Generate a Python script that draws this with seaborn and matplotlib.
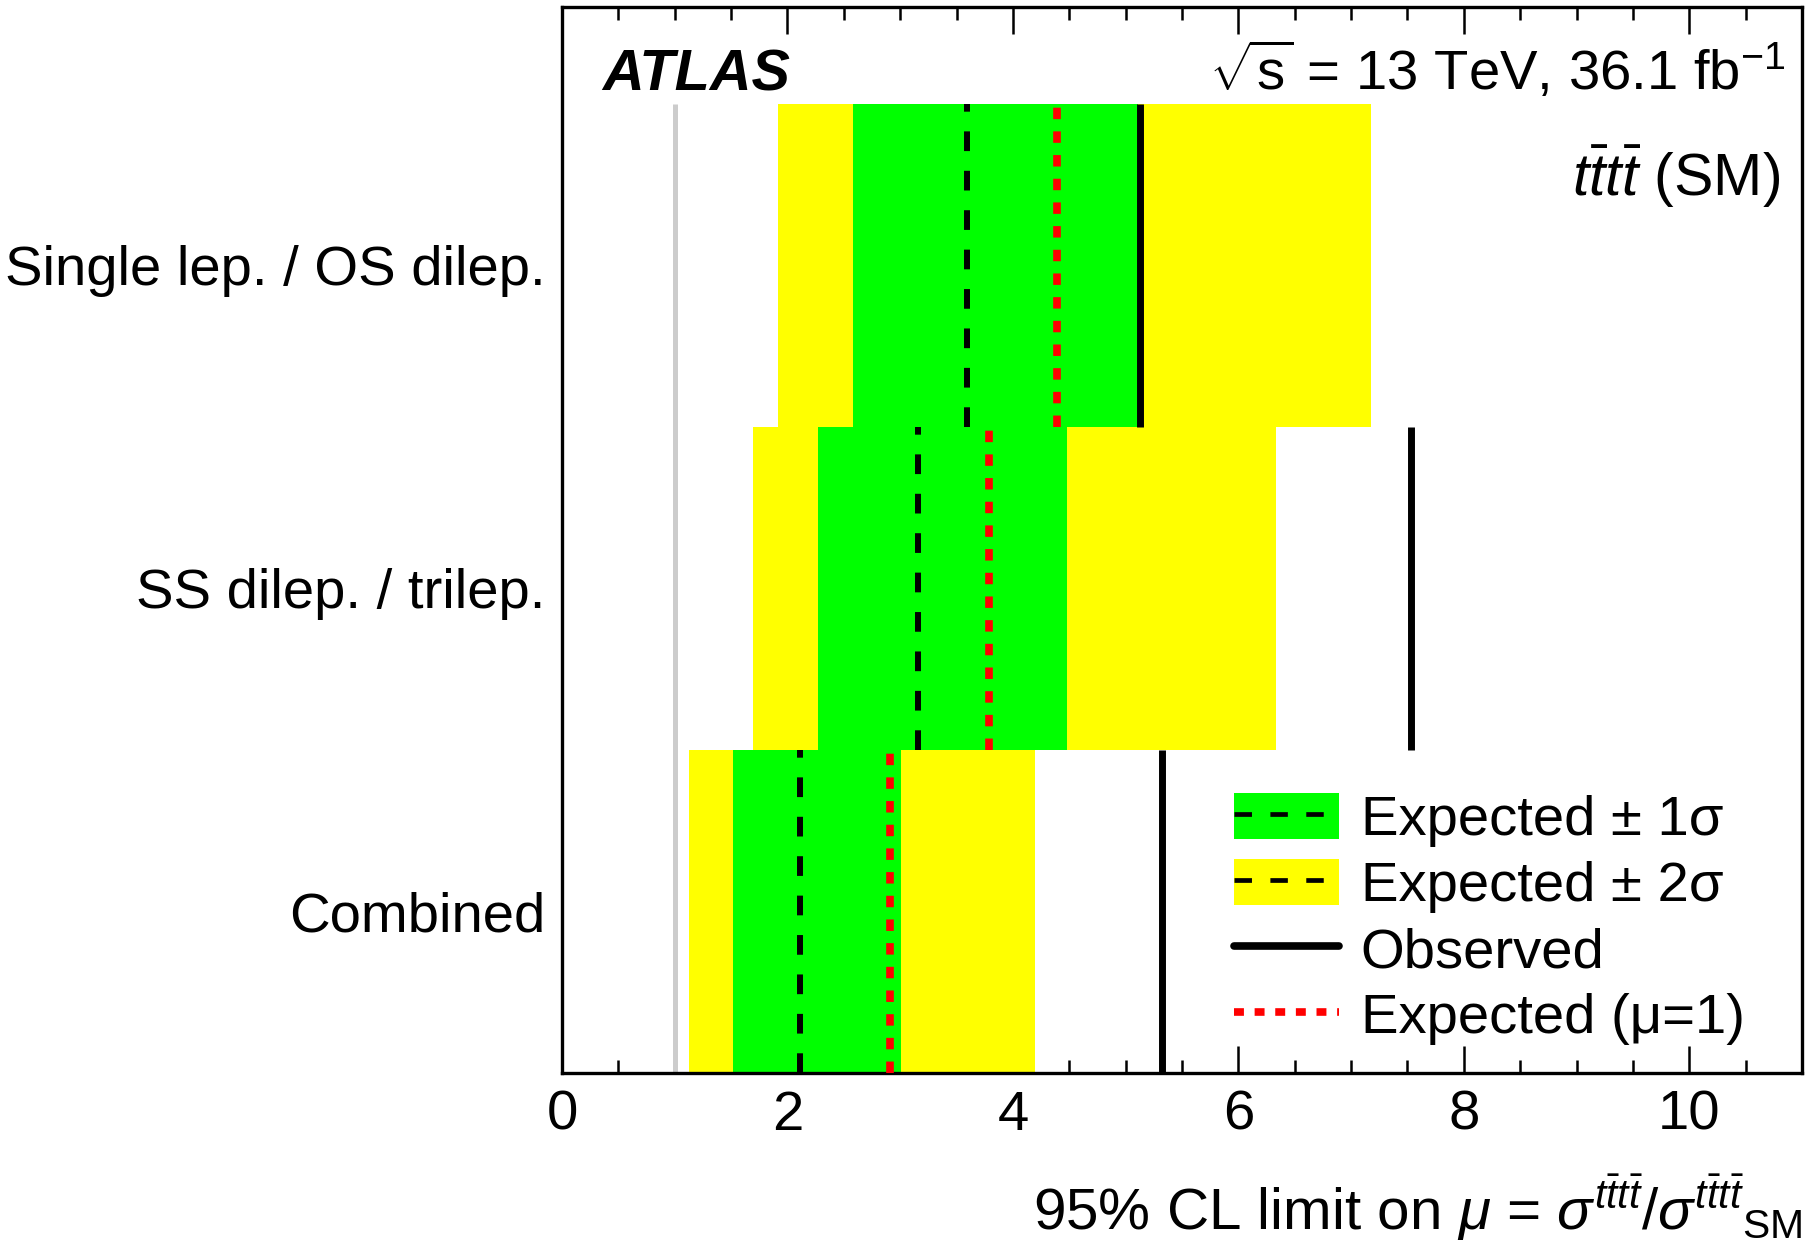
import numpy as np
import matplotlib
matplotlib.use("Agg")
import matplotlib.pyplot as plt
from matplotlib.patches import Patch
from matplotlib.lines import Line2D
from matplotlib.ticker import MultipleLocator
import seaborn as sns

# --- data (top row first) ---
channels = ["Single lep. / OS dilep.", "SS dilep. / trilep.", "Combined"]
expected = [3.59, 3.16, 2.11]
minus1s = [2.58, 2.27, 1.52]
plus1s = [5.11, 4.48, 3.01]
minus2s = [1.92, 1.69, 1.13]
plus2s = [7.18, 6.33, 4.20]
observed = [5.13, 7.53, 5.32]
expected_mu1 = [4.39, 3.79, 2.91]
sm_value = 1.0

sns.set_theme(style="ticks", rc={"text.color": "black", "axes.labelcolor": "black",
                                 "xtick.color": "black", "ytick.color": "black",
                                 "axes.edgecolor": "black"})
plt.rcParams["font.family"] = ["Liberation Sans", "DejaVu Sans"]
plt.rcParams["mathtext.fontset"] = "custom"
plt.rcParams["mathtext.rm"] = "Liberation Sans"
plt.rcParams["mathtext.it"] = "Liberation Sans:italic"
plt.rcParams["mathtext.bf"] = "Liberation Sans:bold"

fs = 40.5
fig = plt.figure(figsize=(18.09, 12.49), dpi=100)
ax = fig.add_axes([0.3107, 0.141, 0.6854, 0.8534])

n = len(channels)
ypos = np.arange(n)[::-1] + 0.5
lo = ypos - 0.5
hi = ypos + 0.5

m2 = np.array(minus2s); p2 = np.array(plus2s)
m1 = np.array(minus1s); p1 = np.array(plus1s)

# 2 sigma and 1 sigma bands
ax.barh(ypos, p2 - m2, left=m2, height=1.0, color="#ffff00", linewidth=0, zorder=1)
ax.barh(ypos, p1 - m1, left=m1, height=1.0, color="#00ff00", linewidth=0, zorder=2)

ax.vlines(sm_value, 0, n, color="#cccccc", lw=3.6, zorder=1.5)
ax.vlines(expected, lo, hi, color="black", lw=4.3, linestyles=[(0, (3.3, 3.3))], zorder=3)
ax.vlines(expected_mu1, lo, hi, color="#ff0000", lw=5.5, linestyles=[(0, (1.5, 1.6))], zorder=4)
ax.vlines(observed, lo, hi, color="black", lw=5.0, zorder=5)

ax.set_xlim(0, 11)
ax.set_ylim(0, 3.3)
ax.xaxis.set_major_locator(MultipleLocator(2))
ax.xaxis.set_minor_locator(MultipleLocator(0.5))
ax.set_yticks(ypos)
ax.set_yticklabels(channels, fontsize=fs)
ax.tick_params(axis="x", which="both", direction="in", top=True, bottom=True,
               labelsize=fs, width=1.8, pad=12, color="black")
ax.tick_params(axis="x", which="major", length=19.5)
ax.tick_params(axis="x", which="minor", length=9.7)
ax.tick_params(axis="y", length=0, pad=12)
for s in ax.spines.values():
    s.set_linewidth(2.4)
    s.set_color("black")
ax.grid(False)

ax.set_xlabel(r"95% CL limit on $\mu$ = $\sigma^{t\bar{t}t\bar{t}}/\sigma^{t\bar{t}t\bar{t}}{}_{\rm SM}$",
              fontsize=fs + 1.5, loc="right", labelpad=22)

ax.text(0.032, 0.922, "ATLAS", transform=ax.transAxes, fontsize=fs + 1,
        fontweight="bold", fontstyle="italic", ha="left", va="baseline")
ax.text(0.987, 0.922, r"$\sqrt{\mathrm{s}}$ = 13 TeV, 36.1 fb$^{-1}$", transform=ax.transAxes,
        fontsize=fs, ha="right", va="baseline")
ax.text(0.982, 0.823, r"$t\bar{t}t\bar{t}$ (SM)", transform=ax.transAxes,
        fontsize=fs + 2, ha="right", va="baseline")

handles = [
    (Patch(facecolor="#00ff00", edgecolor="none"),
     Line2D([], [], color="black", lw=3.4, linestyle=(0, (3.7, 3.9)))),
    (Patch(facecolor="#ffff00", edgecolor="none"),
     Line2D([], [], color="black", lw=3.4, linestyle=(0, (3.7, 3.9)))),
    Line2D([], [], color="black", lw=5.5),
    Line2D([], [], color="#ff0000", lw=5.5, linestyle=(0, (1.3, 1.4))),
]
labels = ["Expected \u00b1 1\u03c3", "Expected \u00b1 2\u03c3", "Observed",
          "Expected (\u03bc=1)"]
ax.legend(handles, labels, loc="upper left", bbox_to_anchor=(0.542, 0.263),
          frameon=False, fontsize=fs, handlelength=1.87, handleheight=0.9,
          handletextpad=0.38, labelspacing=0.2, borderpad=0, borderaxespad=0)

fig.savefig("out.png", dpi=100)
